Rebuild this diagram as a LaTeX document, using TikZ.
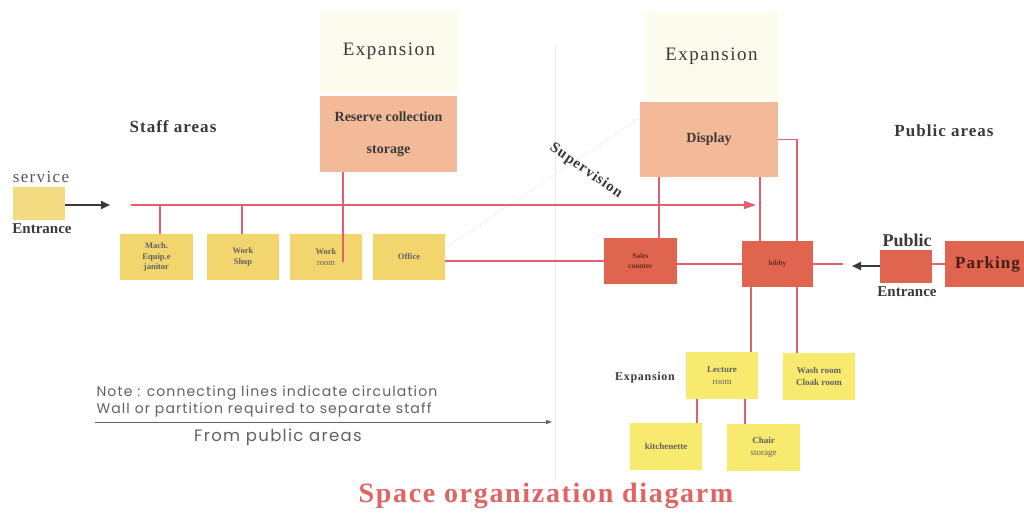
\documentclass[tikz,border=0pt]{standalone}
\usepackage{fontspec}
\setmainfont{Liberation Serif}
\newfontfamily\notefont[LetterSpace=8]{Poppins}
\newfontfamily\widefont[LetterSpace=8]{Liberation Serif}
\newfontfamily\widebold[LetterSpace=6]{Liberation Serif Bold}
\usetikzlibrary{arrows.meta,calc}
\definecolor{cream}{HTML}{FCFBEE}
\definecolor{salmon}{HTML}{F3BA9A}
\definecolor{ylw}{HTML}{F2D56C}
\definecolor{lemon}{HTML}{F7EA6E}
\definecolor{redbox}{HTML}{E0654F}
\definecolor{circ}{HTML}{E2606E}
\definecolor{ink}{HTML}{3A3A3A}
\definecolor{titlered}{HTML}{E06464}
\tikzset{
  box/.style={anchor=north west, inner sep=0pt, outer sep=0pt, align=center},
  expbox/.style={box, fill=cream, text=ink, font=\widefont\fontsize{19}{22}\selectfont},
  salbox/.style={box, fill=salmon, text=ink, font=\bfseries\fontsize{14}{16}\selectfont},
  staffbox/.style={box, fill=ylw, text=ink!80, font=\bfseries\fontsize{8.5}{10.5}\selectfont, minimum width=73pt, minimum height=46pt},
  lemonbox/.style={box, fill=lemon, text=ink!80, font=\bfseries\fontsize{9}{12}\selectfont, minimum width=72pt, minimum height=47pt},
  redb/.style={box, fill=redbox, text=black!55!redbox, font=\bfseries\fontsize{7.5}{9.5}\selectfont},
  circline/.style={draw=circ, line width=1.5pt},
  label/.style={text=ink, font=\widebold\fontsize{17}{19}\selectfont},
  darrow/.style={draw=ink, line width=2pt, -{Triangle[length=9pt,width=8pt]}},
  notetext/.style={text=ink!80, font=\notefont\fontsize{14}{17}\selectfont},
}
\begin{document}
\begin{tikzpicture}[x=1pt,y=-1pt]
\useasboundingbox (0,0) rectangle (1024,516);
\fill[white] (0,0) rectangle (1024,516);
% faint partition and supervision sight line
\draw[black!8, line width=1pt] (555,45) -- (555,482);
\draw[black!12, line width=1pt, dotted] (445,248) -- (640,118);

% top boxes
\node[expbox, minimum width=138pt, minimum height=83pt] (exp1) at (320,10) {Expansion};
\node[salbox, minimum width=137pt, minimum height=76pt] (storage) at (320,96) {Reserve collection\\[16pt]storage};
\node[expbox, minimum width=133pt, minimum height=88pt] (exp2) at (645,12) {Expansion};
\node[salbox, minimum width=138pt, minimum height=75pt] (display) at (640,102) {Display};

% area labels
\node[label] (staff) at (173,127) {Staff areas};
\node[label] (public) at (944,131) {Public areas};
\node[text=ink, font=\widebold\fontsize{15}{17}\selectfont, rotate=-35] (sup) at (586,171) {Supervision};

% service entrance
\node[box, fill=ylw!85!white, minimum width=52pt, minimum height=33pt] (service) at (13,187) {};
\node[text=ink!85, font=\widefont\fontsize{17}{19}\selectfont, anchor=south] (servicel) at ([xshift=2pt,yshift=1pt]service.north) {service};
\node[text=ink, font=\bfseries\fontsize{15}{17}\selectfont, anchor=north] (serviceent) at ([xshift=3pt]service.south) {Entrance};
\coordinate (arrowend) at (110,205);
\draw[darrow] (service.east |- arrowend) -- (arrowend);

% main staff corridor
\coordinate (ml) at (131,205);
\coordinate (mlend) at (756,205);
\draw[circline, -{Triangle[length=12pt,width=8pt]}] (ml) -- (mlend);

% staff rooms
\node[staffbox] (mach) at (120,234) {Mach.\\Equip.e\\janitor};
\node[staffbox, minimum width=72pt] (shop) at (207,234) {Work\\Shop};
\node[staffbox, minimum width=72pt] (wroom) at (290,234) {Work\\{\mdseries room}};
\node[staffbox, minimum width=72pt] (office) at (373,234) {Office};

\draw[circline] ([xshift=3.5pt]mach.north) -- ([xshift=3.5pt]mach.north |- ml);
\draw[circline] ([xshift=-1pt]shop.north) -- ([xshift=-1pt]shop.north |- ml);
\coordinate (wrin) at (343,262);
\draw[circline] (storage.south -| wrin) -- (wrin);

% public core
\node[redb, minimum width=73pt, minimum height=46pt] (sales) at (604,238) {Sales\\counter};
\node[redb, minimum width=71pt, minimum height=46pt] (lobby) at (742,241) {lobby};

\draw[circline] (office.east |- sales.west) -- (sales.west);
\draw[circline] (sales.east |- lobby.west) -- (lobby.west);
\draw[circline] ([xshift=18.5pt]sales.north) -- ([xshift=18.5pt]sales.north |- display.south);
\draw[circline] ([xshift=-17.5pt]lobby.north) -- ([xshift=-17.5pt]lobby.north |- display.south);
\draw[circline] (display.east) -| ([xshift=19.5pt]lobby.north);

% public entrance and parking
\node[redb, minimum width=52pt, minimum height=33pt] (pub) at (880,250) {};
\node[text=ink, font=\bfseries\fontsize{18}{20}\selectfont, anchor=south] (publ) at ([xshift=1pt]pub.north) {Public};
\node[text=ink, font=\bfseries\fontsize{15}{17}\selectfont, anchor=north] (pubent) at ([xshift=1pt]pub.south) {Entrance};
\node[redb, minimum width=79pt, minimum height=46pt, text=black!70!redbox, font=\widebold\fontsize{17}{19}\selectfont] (parking) at (945,241) {\hspace*{6pt}Parking};
\coordinate (lobbyout) at (843,264);
\coordinate (pubarrow) at (852,266);
\draw[circline] (lobby.east |- lobbyout) -- (lobbyout);
\draw[darrow] (pub.west |- pubarrow) -- (pubarrow);
\draw[circline] (pub.east |- parking.west) -- (parking.west);

% lower rooms
\node[lemonbox] (lecture) at (686,352) {Lecture\\{\mdseries room}};
\node[lemonbox] (wash) at (783,353) {Wash room\\Cloak room};
\node[lemonbox] (kitchen) at (630,423) {kitchenette};
\node[lemonbox, minimum width=73pt] (chair) at (727,424) {Chair\\{\mdseries storage}};
\node[text=ink, font=\widebold\fontsize{12}{14}\selectfont] (exp3) at (645,378) {Expansion};

\draw[circline] ([xshift=-26.5pt]lobby.south) -- ([xshift=-26.5pt]lobby.south |- lecture.north);
\draw[circline] ([xshift=19.5pt]lobby.south) -- ([xshift=19.5pt]lobby.south |- wash.north);
\draw[circline] ([xshift=-25pt]lecture.south) -- ([xshift=-25pt]lecture.south |- kitchen.north);
\draw[circline] ([xshift=23pt]lecture.south) -- ([xshift=23pt]lecture.south |- chair.north);

% note
\node[anchor=west, notetext] (note1) at (93,393) {Note : connecting lines indicate circulation};
\node[anchor=west, notetext] (note2) at (93,410) {Wall or partition required to separate staff};
\coordinate (ns) at (95,422);
\coordinate (ne) at (552,422);
\draw[ink!80, line width=0.8pt, -{Triangle[length=6pt,width=4pt]}] (ns) -- (ne);
\node[notetext, font=\notefont\fontsize{16.5}{18}\selectfont] (note3) at (278,437) {From public areas};

% title
\node[text=titlered, font=\widebold\fontsize{28}{30}\selectfont] (title) at (546,496) {Space organization diagarm};
\end{tikzpicture}
\end{document}
